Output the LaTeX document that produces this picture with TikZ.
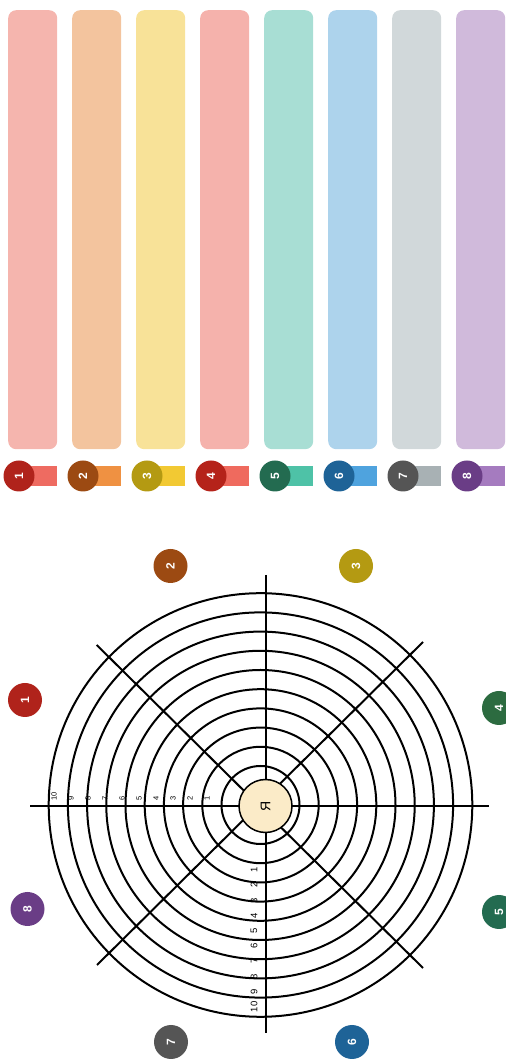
\documentclass[tikz,border=0pt]{standalone}
\usepackage{fontspec}
\setmainfont{Liberation Sans}
% pale bars
\definecolor{barA}{HTML}{F5B5AE}
\definecolor{barB}{HTML}{F3C49E}
\definecolor{barC}{HTML}{F8E298}
\definecolor{barD}{HTML}{F5B2AC}
\definecolor{barE}{HTML}{A8DED4}
\definecolor{barF}{HTML}{ADD3EC}
\definecolor{barG}{HTML}{D1D8DA}
\definecolor{barH}{HTML}{D0BADB}
% tabs
\definecolor{tabA}{HTML}{EE6B61}
\definecolor{tabB}{HTML}{EF9142}
\definecolor{tabC}{HTML}{F2C933}
\definecolor{tabD}{HTML}{EF6A5E}
\definecolor{tabE}{HTML}{4EC2A7}
\definecolor{tabF}{HTML}{4FA3DE}
\definecolor{tabG}{HTML}{A8B1B4}
\definecolor{tabH}{HTML}{A57BBF}
% dark badges
\definecolor{dotA}{HTML}{B0231B}
\definecolor{dotB}{HTML}{9C4A12}
\definecolor{dotC}{HTML}{B49A12}
\definecolor{dotD}{HTML}{B5231A}
\definecolor{dotE}{HTML}{236B50}
\definecolor{dotF}{HTML}{1E6397}
\definecolor{dotG}{HTML}{555555}
\definecolor{dotH}{HTML}{6A3D86}
\definecolor{dotDg}{HTML}{2C6B40}
\definecolor{selffill}{HTML}{FBEBC8}
\begin{document}
\begin{tikzpicture}[x=1pt,y=1pt,
        legbar/.style={rectangle, rounded corners=8pt, minimum width=49pt, minimum height=439pt, inner sep=0pt},
        legtab/.style={rectangle, minimum width=38pt, minimum height=20pt, inner sep=0pt},
        badge/.style={circle, minimum size=31pt, inner sep=0pt, text=white, font=\bfseries\fontsize{12}{12}\selectfont, rotate=90},
        bigbadge/.style={badge, minimum size=34pt},
        ring/.style={line width=2pt},
        spoke/.style={line width=2pt},
        vlab/.style={rotate=90, inner sep=0pt, font=\fontsize{9.5}{9.5}\selectfont},
        hlab/.style={rotate=90, inner sep=0pt, anchor=west, font=\fontsize{7.5}{7.5}\selectfont}]
    \useasboundingbox (0,0) rectangle (506,1061);

    % legend
    \foreach \i/\barc/\tabc/\dotc in {1/barA/tabA/dotA, 2/barB/tabB/dotB, 3/barC/tabC/dotC, 4/barD/tabD/dotD,
            5/barE/tabE/dotE, 6/barF/tabF/dotF, 7/barG/tabG/dotG, 8/barH/tabH/dotH} {
        \pgfmathsetmacro\xl{8+64*(\i-1)}
        \node[legbar, fill=\barc, anchor=north west] (bar\i) at (\xl,1051) {};
        \node[legtab, fill=\tabc, anchor=west] (tab\i) at (\xl+11,585) {};
        \node[badge, fill=\dotc] (leg\i) at (\xl+11,585) {\i};
    }

    % target
    \coordinate (rc) at (260.5,256);
    \foreach \k in {0,...,9}
        \draw[ring] (rc) circle ({39+19.2*\k});

    \coordinate (hl) at (30,254.5);
    \coordinate (hr) at (489,254.5);
    \coordinate (vt) at (265.5,486);
    \coordinate (vb) at (265.5,28);
    \coordinate (da) at (96.7,416);
    \coordinate (db) at (423,93);
    \coordinate (dc) at (423,419);
    \coordinate (dd) at (97,96);
    \draw[spoke] (hl) -- (hr);
    \draw[spoke] (vt) -- (vb);
    \draw[spoke] (da) -- (db);
    \draw[spoke] (dc) -- (dd);

    \node[circle, draw, line width=1.5pt, fill=selffill, minimum size=53pt, inner sep=0pt, rotate=90,
        font=\fontsize{14}{14}\selectfont] (self) at (265.5,255) {Я};

    % scale numbers
    \foreach \k in {1,...,10}
        \node[vlab] (v\k) at (254,{191-15.2*(\k-1)}) {\k};
    \foreach \k in {1,...,10}
        \node[hlab] (h\k) at ({207-17*(\k-1)},260) {\k};

    % sectors
    \node[bigbadge, fill=dotA] (o1) at (25,361) {1};
    \node[bigbadge, fill=dotB] (o2) at (170.5,495) {2};
    \node[bigbadge, fill=dotC] (o3) at (356,495) {3};
    \node[bigbadge, fill=dotDg] (o4) at (499,353) {4};
    \node[bigbadge, fill=dotE] (o5) at (499,149) {5};
    \node[bigbadge, fill=dotF] (o6) at (352,19) {6};
    \node[bigbadge, fill=dotG] (o7) at (171,19) {7};
    \node[bigbadge, fill=dotH] (o8) at (27.5,152) {8};
\end{tikzpicture}
\end{document}
